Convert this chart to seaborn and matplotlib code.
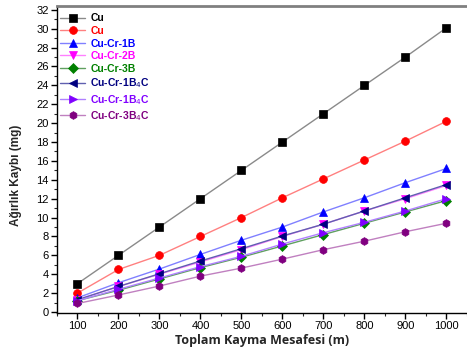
import matplotlib
matplotlib.use("Agg")
import matplotlib.pyplot as plt
import seaborn as sns
import pandas as pd
from matplotlib.ticker import MultipleLocator

sns.set_theme(style="white")
plt.rcParams['font.family'] = ['Liberation Sans', 'DejaVu Sans']

distance = [100, 200, 300, 400, 500, 600, 700, 800, 900, 1000]

labels = ["Cu", "Cu", "Cu-Cr-1B", "Cu-Cr-2B", "Cu-Cr-3B",
          "Cu-Cr-1B$_4$C", "Cu-Cr-1B$_4$C", "Cu-Cr-3B$_4$C"]

cu_black = [3.0, 6.0, 9.0, 12.0, 15.0, 18.0, 21.0, 24.0, 27.0, 30.1]
cu_red = [2.0, 4.5, 6.0, 8.0, 10.0, 12.1, 14.1, 16.1, 18.1, 20.2]
cucr_1b = [1.5, 3.1, 4.55, 6.1, 7.6, 9.0, 10.6, 12.1, 13.7, 15.2]
cucr_2b = [1.3, 2.7, 4.0, 5.3, 6.6, 8.0, 9.3, 10.7, 12.0, 13.4]
cucr_3b = [1.2, 2.3, 3.5, 4.7, 5.8, 7.0, 8.2, 9.4, 10.6, 11.8]
cucr_1b4c_a = [1.3, 2.7, 4.05, 5.4, 6.7, 8.05, 9.3, 10.7, 12.1, 13.5]
cucr_1b4c_b = [1.2, 2.4, 3.6, 4.8, 5.9, 7.2, 8.4, 9.5, 10.7, 12.0]
cucr_3b4c = [0.9, 1.8, 2.75, 3.8, 4.65, 5.6, 6.6, 7.5, 8.5, 9.4]

series = [cu_black, cu_red, cucr_1b, cucr_2b, cucr_3b, cucr_1b4c_a, cucr_1b4c_b, cucr_3b4c]
colors = ["#000000", "#FF0000", "#0000FF", "#FF00FF", "#008000", "#000080", "#8000FF", "#800080"]
line_colors = ["#8a8a8a", "#FF8080", "#8080FF", "#FF80FF", "#60A060", "#6060B0", "#B080FF", "#C080C0"]
markers = ["s", "o", "^", "v", "D", "<", ">", "h"]

fig = plt.figure(figsize=(4.67, 3.54), dpi=100)
ax = fig.add_axes([0.122, 0.116, 0.878, 0.867])

for i, (vals, lab) in enumerate(zip(series, labels)):
    df = pd.DataFrame({"x": distance, "y": vals})
    sns.lineplot(data=df, x="x", y="y", ax=ax, color=line_colors[i], lw=1.0,
                 marker=markers[i], markersize=5.6 if markers[i] != "D" else 4.6,
                 markeredgewidth=0.5,
                 markerfacecolor=colors[i], markeredgecolor=colors[i],
                 label=lab)

ax.set_xlim(50, 1050)
ax.set_ylim(-0.1, 32.4)
ax.xaxis.set_major_locator(MultipleLocator(100))
ax.xaxis.set_minor_locator(MultipleLocator(50))
ax.yaxis.set_major_locator(MultipleLocator(2))
ax.yaxis.set_minor_locator(MultipleLocator(1))
ax.tick_params(axis='both', which='major', direction='out', length=4, width=1,
               labelsize=8, colors='black', bottom=True, left=True, pad=2)
ax.tick_params(axis='both', which='minor', direction='out', length=2, width=0.8,
               bottom=True, left=True)

for s in ["left", "bottom"]:
    ax.spines[s].set_color("black")
    ax.spines[s].set_linewidth(1.0)
ax.spines["top"].set_color("#808080")
ax.spines["top"].set_linewidth(2.0)
ax.spines["right"].set_visible(False)

ax.set_xlabel("Toplam Kayma Mesafesi (m)", fontsize=9, fontweight="bold",
              family=["Open Sans", "DejaVu Sans"], labelpad=2)
ax.set_ylabel("Ağırlık Kaybı (mg)", fontsize=8.5, fontweight="bold")
ax.yaxis.set_label_coords(-0.085, 0.45)

leg = ax.legend(loc="upper left", frameon=False, fontsize=7.5, handlelength=2.4,
                handletextpad=0.5, labelspacing=0.25, borderaxespad=0.3,
                bbox_to_anchor=(-0.01, 1.0))
for t, c in zip(leg.get_texts(), colors):
    t.set_color(c)
    t.set_fontweight("bold")

fig.savefig("out.png", dpi=100)
